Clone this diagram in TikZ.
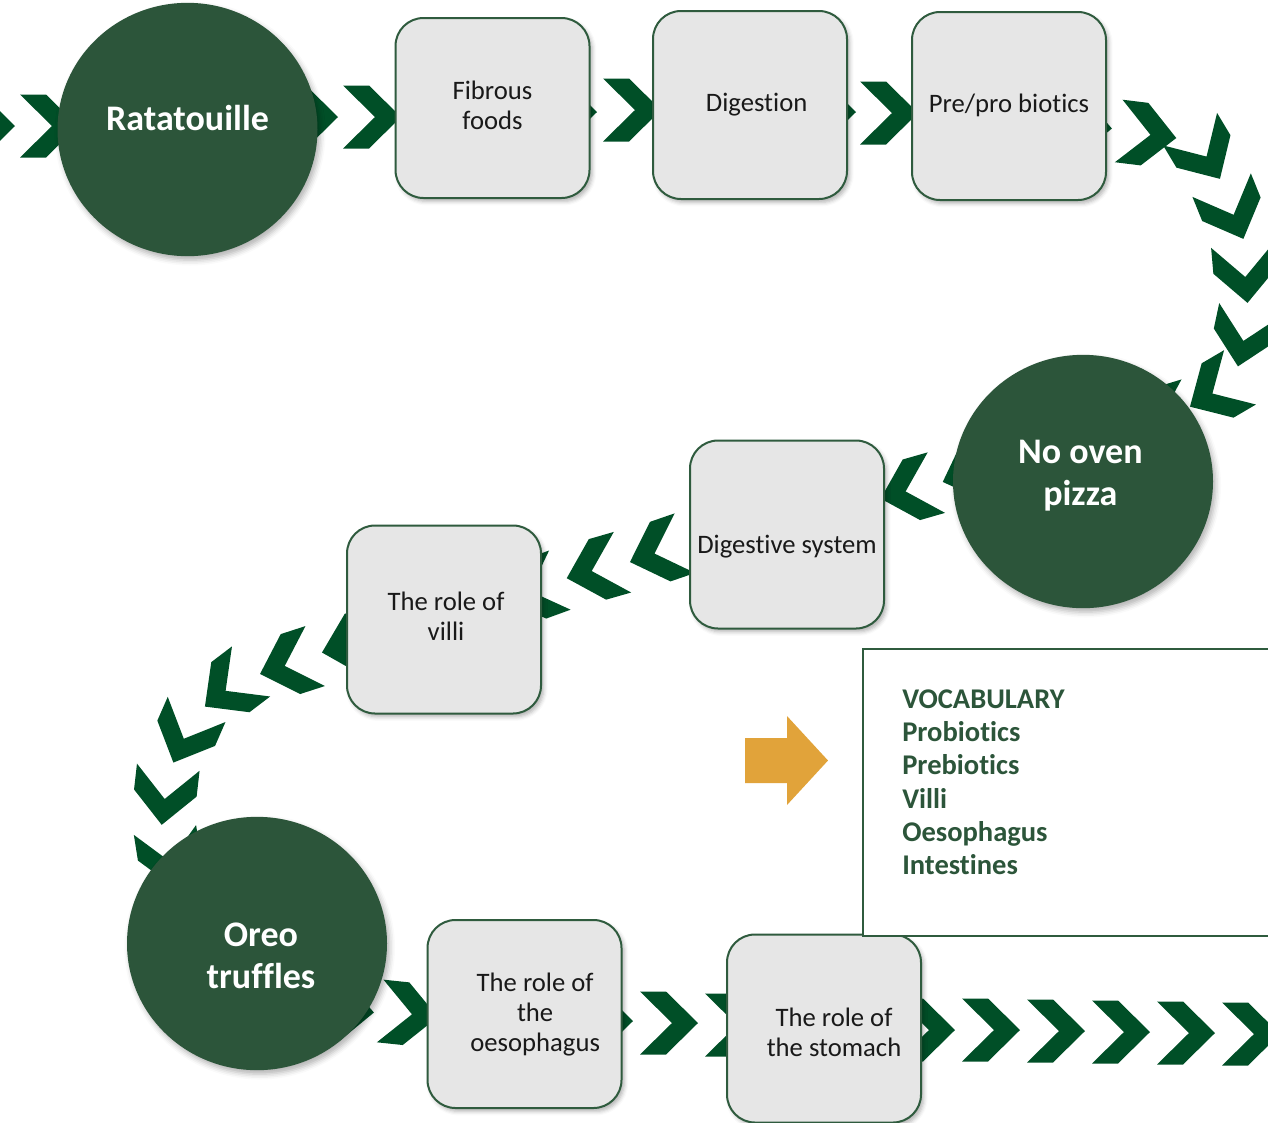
\documentclass[tikz,border=0pt]{standalone}
\usepackage{fontspec}
\setmainfont{Carlito}[Ligatures={NoCommon}]
\usetikzlibrary{shapes.geometric,shadows.blur}
\definecolor{chevcol}{HTML}{004F27}
\definecolor{circcol}{HTML}{2C553A}
\definecolor{boxline}{HTML}{2F5B3E}
\definecolor{boxfill}{HTML}{E6E6E6}
\definecolor{vocabcol}{HTML}{2C553A}
\definecolor{orngcol}{HTML}{E1A33A}
\newcommand\lifted[3]{\hspace*{#2}\raisebox{#1}[\height][\depth]{\begin{tabular}{@{}c@{}}#3\end{tabular}}\hspace*{-#2}}
\newcommand\chev[3]{\fill[chevcol, shift={(#1,#2)}, rotate=#3] (-29,-31.5) -- (-3,-31.5) -- (29,0) -- (-3,31.5) -- (-29,31.5) -- (3,0) -- cycle;}
\tikzset{
  boxn/.style={rectangle, rounded corners=21pt, draw=boxline, line width=1.5pt, fill=boxfill,
    minimum width=145.5pt, minimum height=141pt, inner sep=0pt, text=black!90,
    font=\fontsize{20}{22.5}\selectfont,
    blur shadow={shadow xshift=2pt, shadow yshift=-2.5pt, shadow blur radius=3pt, shadow opacity=30}},
  circn/.style={ellipse, fill=circcol, minimum width=195pt, minimum height=190pt, inner sep=0pt,
    text=white, font=\bfseries\fontsize{27}{31.5}\selectfont,
    blur shadow={shadow xshift=2pt, shadow yshift=-3pt, shadow blur radius=4pt, shadow opacity=30}},
}
\begin{document}
\begin{tikzpicture}[x=0.75pt, y=-0.75pt]
\useasboundingbox (0,0) rectangle (1268,1122);
% top row chevrons
\chev{-14}{126}{0}
\chev{49}{126}{0}
\chev{309}{117}{0}
\chev{372}{117}{0}
\chev{568}{112}{0}
\chev{632}{110}{0}
\chev{827}{112}{0}
\chev{889}{113}{0}
\chev{1083}{126}{-5}
\chev{1147.5}{134.5}{-7}
\chev{1205}{154}{-59}
\chev{1232.5}{212}{-68}
\chev{1245}{274}{-85}
\chev{1244}{338}{-102}
\chev{1215}{392}{-149.6}
\chev{1163}{418}{-163}
% pizza to digestive system
\chev{970}{472}{-160}
\chev{908.5}{490.6}{-164}
\chev{657.4}{552.6}{-161}
\chev{594.6}{570.2}{-164}
\chev{532.6}{590}{-160}
% villi to oreo
\chev{350}{645}{-165}
\chev{287.6}{665}{-162}
\chev{228}{689}{-142.7}
\chev{185}{736}{-113.6}
\chev{165}{796}{-96.5}
\chev{169.5}{858.6}{-81}
% bottom row
\chev{345}{1010}{-5}
\chev{409}{1014}{-6}
\chev{604}{1021}{0}
\chev{669}{1023}{0}
\chev{734}{1025}{0}
\chev{926}{1030}{0}
\chev{991}{1030}{0}
\chev{1056}{1031}{0}
\chev{1121}{1032}{0}
\chev{1186}{1033}{0}
\chev{1251}{1034}{0}
% circles
\node[circn] (rat) at (187.5,129.5) {\lifted{5.9pt}{0pt}{Ratatouille}};
\node[circn] (pizza) at (1083,481.5) {\lifted{4pt}{-2pt}{No oven\\pizza}};
\node[circn] (oreo) at (257,943.5) {\lifted{-11.9pt}{3pt}{Oreo\\truffles}};
% boxes
\node[boxn, minimum height=135pt] (fib) at (492.5,108) {\lifted{0pt}{0pt}{Fibrous\\foods}};
\node[boxn] (dig) at (750,105) {\lifted{0pt}{5pt}{Digestion}};
\node[boxn] (pre) at (1009,106) {\lifted{0pt}{0pt}{Pre/pro biotics}};
\node[boxn] (dsys) at (787,534.5) {\lifted{-9.4pt}{0pt}{Digestive system}};
\node[boxn] (villi) at (444,619.5) {\lifted{0pt}{1.5pt}{The role of\\villi}};
\node[boxn] (oes) at (524.5,1014) {\lifted{-1pt}{8pt}{The role of\\the\\oesophagus}};
\node[boxn] (stom) at (824,1028.5) {\lifted{-4.9pt}{7.5pt}{The role of\\the stomach}};
% vocabulary
\node[draw=boxline, line width=1.5pt, fill=white, anchor=north west, minimum width=320pt,
  minimum height=215.25pt, inner sep=0pt] (vbox) at (862,648) {};
\node[anchor=base west, inner sep=0pt, text=vocabcol, font=\bfseries\fontsize{21.4}{25}\selectfont] (vtext) at (902,708)
  {\begin{tabular}[t]{@{}l@{}}VOCABULARY\\Probiotics\\Prebiotics\\Villi\\Oesophagus\\Intestines\end{tabular}};
% orange arrow
\fill[orngcol] (745,738) -- (787,738) -- (787,716) -- (828,760.5) -- (787,805) -- (787,783) -- (745,783) -- cycle;
\end{tikzpicture}
\end{document}
